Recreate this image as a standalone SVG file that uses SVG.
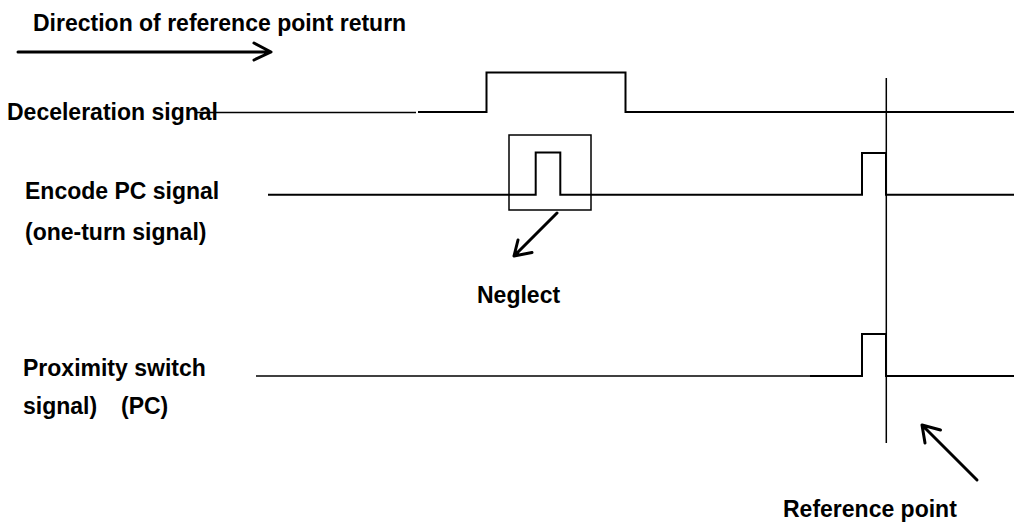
<svg xmlns="http://www.w3.org/2000/svg" width="1014" height="524" viewBox="0 0 1014 524">
<style>
text{font-family:"Liberation Sans",Arial,sans-serif;font-weight:bold;font-size:23px;fill:#000}
.sig{fill:none;stroke:#000;stroke-width:2}
.thin{fill:none;stroke:#000;stroke-width:1.5}
.arr{fill:none;stroke:#000;stroke-width:3;stroke-linecap:round;stroke-linejoin:round}
</style>
<rect width="1014" height="524" fill="#fff"/>
<g id="direction">
<text x="33" y="31">Direction of reference point return</text>
<path class="arr" d="M18,52 H270 M254,43 L271,52 L254,60"/>
</g>
<g id="labels">
<text id="lbl-decel" x="7" y="120">Deceleration signal</text>
<text id="lbl-enc1" x="25" y="199">Encode PC signal</text>
<text id="lbl-enc2" x="25" y="240">(one-turn signal)</text>
<text id="lbl-prox1" x="23" y="376">Proximity switch</text>
<text id="lbl-prox2" x="23" y="414">signal)<tspan x="121">(PC)</tspan></text>
</g>
<g id="decel-signal">
<path class="thin" d="M195,112.5 H416"/>
<path class="sig" d="M418,112 H486.5 V72.5 H625.5 V112 H1014"/>
</g>
<g id="encoder-signal">
<path class="sig" d="M268,194.7 H535.7 V152.5 H560.3 V194.7 H862 V153 H886 V194.7 H1014"/>
<rect class="thin" x="509" y="135" width="82" height="75"/>
</g>
<g id="prox-signal">
<path class="thin" d="M256,376 H810"/>
<path class="sig" d="M810,376 H862 V334 H886 V376 H1014"/>
</g>
<g id="ref-line">
<path class="thin" d="M886.3,78 V443"/>
</g>
<g id="connectors">
<path class="arr" d="M557,213 L514,256 M518,240 L514,256 L532,252.5" stroke-width="2.5"/>
<path class="arr" d="M977,480 L922,425 M925,443 L922,425 L940.5,430" stroke-width="2.5"/>
</g>
<g id="neglect">
<text x="477" y="303">Neglect</text>
</g>
<g id="refpoint">
<text x="783" y="517">Reference point</text>
</g>
</svg>
